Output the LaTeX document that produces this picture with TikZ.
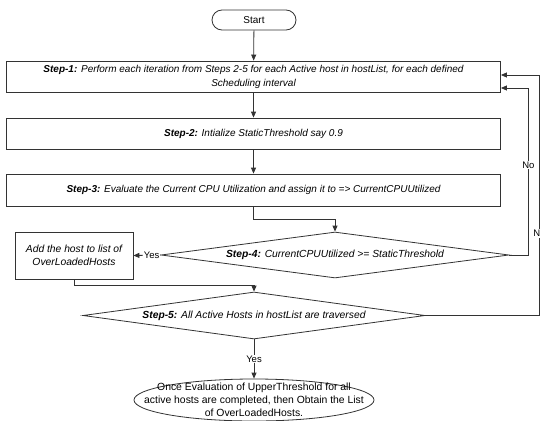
\documentclass[tikz,border=0pt]{standalone}
\usepackage{fontspec}
\setmainfont{Liberation Sans}
\usetikzlibrary{arrows.meta,shapes.geometric,calc}
\begin{document}
\begin{tikzpicture}[x=1pt,y=-1pt,
  ln/.style={draw=black!80, line width=0.8pt},
  arr/.style={ln, -{Triangle[length=6pt,width=5pt]}},
  stepbox/.style={ln, rectangle, minimum width=494pt, inner sep=0pt, align=center,
    font=\fontsize{10}{14}\selectfont\itshape},
  decision/.style={ln, diamond, shape aspect=7.5, inner sep=0pt,
    font=\fontsize{10.3}{12}\selectfont\itshape},
  lbl/.style={fill=white, inner sep=1pt, font=\fontsize{9.5}{11}\selectfont}
]
\useasboundingbox (0,0) rectangle (540,420);
\fill[white] (0,0) rectangle (540,420);

\node[ln, rectangle, rounded corners=10pt, minimum width=84pt, minimum height=20pt,
  inner sep=0pt, font=\fontsize{10}{12}\selectfont] (start) at (254,20) {Start};

\node[stepbox, minimum height=31pt] (s1) at (253.5,76.5)
  {\textbf{Step-1:} Perform each iteration from Steps 2-5 for each Active host in hostList, for each defined\\Scheduling interval};
\node[stepbox, minimum height=31pt] (s2) at (253.5,133.5)
  {\textbf{Step-2:} Intialize StaticThreshold say 0.9};
\node[stepbox, minimum height=32pt] (s3) at (253.5,190)
  {\textbf{Step-3:} Evaluate the Current CPU Utilization and assign it to => CurrentCPUUtilized};

\node[decision, minimum width=348pt, minimum height=46pt] (s4) at (335,255)
  {\textbf{Step-4:} CurrentCPUUtilized >= StaticThreshold};

\node[ln, rectangle, minimum width=118pt, minimum height=47pt, inner sep=0pt, align=center,
  font=\fontsize{10.3}{13.5}\selectfont\itshape] (add) at (74,255.5)
  {Add the host to list of\\OverLoadedHosts};

\node[decision, minimum width=342pt, minimum height=47pt] (s5) at (254,315.5)
  {\textbf{Step-5:} All Active Hosts in hostList are traversed};

\node[ln, ellipse, minimum width=240pt, minimum height=42pt, inner sep=0pt] (fin) at (254,400) {};
\node[align=center, inner sep=0pt, font=\fontsize{10.4}{13}\selectfont] (fintext) at (fin.center)
  {Once Evaluation of UpperThreshold for all\\active hosts are completed, then Obtain the List\\of OverLoadedHosts.};

\draw[arr] (start) -- (s1);
\draw[arr] (s1) -- (s2);
\draw[arr] (s2) -- (s3);
\draw[arr] (s3.south) -- ++(0,13) -| (s4.north);
\draw[arr] (s4.west) -- node[lbl, pos=0.33]{Yes} (add.east);
\draw[arr] (add.south) -- ++(0,6) -| (s5.north);
\draw[arr] (s4.east) -- ++(19,0) |- node[lbl, pos=0.27]{No} ([yshift=-11.5pt]s1.east);
\draw[arr] (s5.east) -- ++(114,0) |- node[lbl, pos=0.17]{No} ([yshift=1.5pt]s1.east);
\draw[arr] (s5.south) -- node[lbl]{Yes} (fin.north);
\end{tikzpicture}
\end{document}
